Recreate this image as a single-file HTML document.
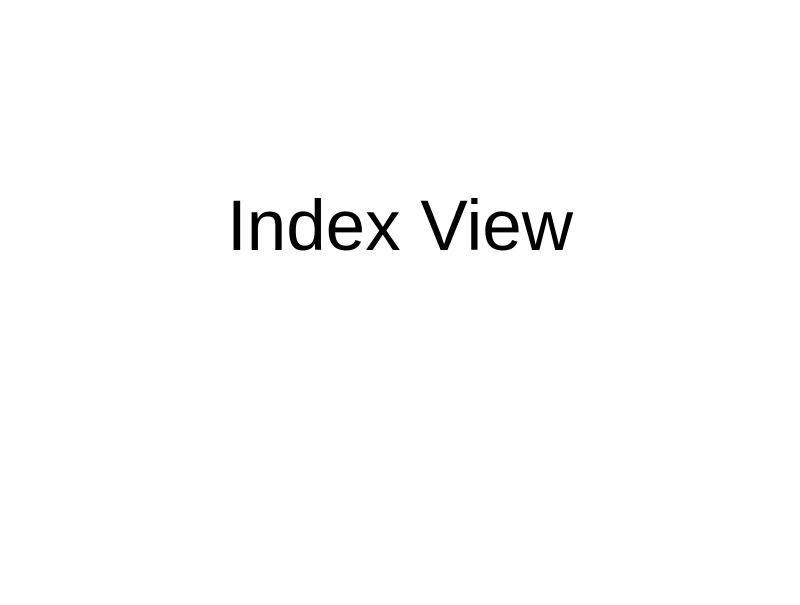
<!DOCTYPE html>
<html>
<head>
<meta charset="utf-8">
<style>
  html, body { margin: 0; padding: 0; background: #ffffff; }
  body { width: 800px; height: 600px; overflow: hidden; }
</style>
</head>
<body>
<svg width="800" height="600" viewBox="0 0 800 600">
  <rect x="0" y="0" width="800" height="600" fill="#ffffff"/>
  <text x="400" y="250" text-anchor="middle" font-family="'Liberation Sans', Arial, sans-serif" font-size="71" fill="#000000">Index View</text>
</svg>
</body>
</html>
